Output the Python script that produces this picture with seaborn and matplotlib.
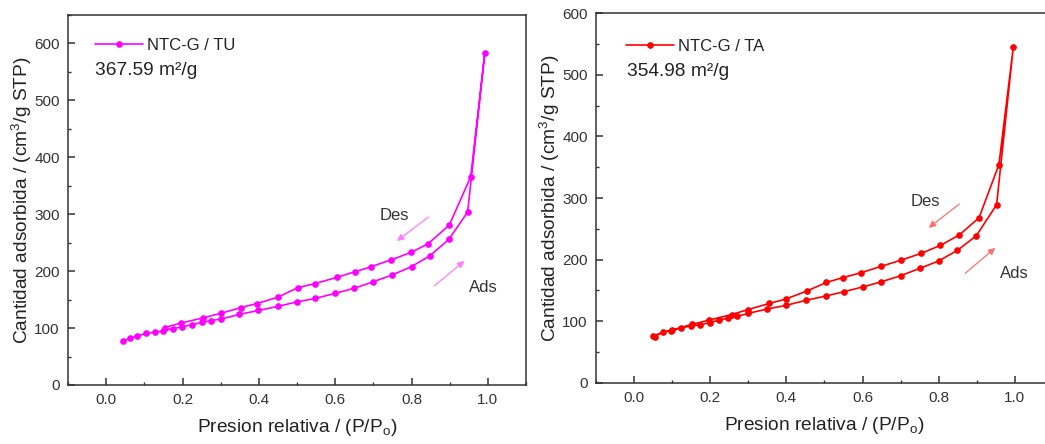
import numpy as np
import pandas as pd
import matplotlib
matplotlib.use("Agg")
import matplotlib.pyplot as plt
from matplotlib.ticker import MultipleLocator, FormatStrFormatter
import seaborn as sns

# NTC-G / TU isotherm: adsorption branch (rising P/Po) then desorption branch
tu_ads_p = [0.044, 0.062, 0.082, 0.105, 0.128, 0.150, 0.174, 0.199, 0.225, 0.251,
            0.275, 0.301, 0.349, 0.399, 0.449, 0.500, 0.547, 0.600, 0.650, 0.698,
            0.748, 0.800, 0.848, 0.898, 0.947, 0.992]
tu_ads_v = [76.6, 82, 86.5, 90.6, 93, 95, 99, 102, 106, 110,
            113, 116, 124, 131, 138, 146, 152, 161, 170, 181,
            193, 208, 227, 256, 304, 584]
tu_des_p = [0.955, 0.899, 0.843, 0.799, 0.747, 0.695, 0.652, 0.604, 0.546, 0.502,
            0.449, 0.394, 0.353, 0.301, 0.254, 0.197, 0.153]
tu_des_v = [366, 281, 248, 233, 220, 208, 199, 189, 178, 171,
            154, 143, 136, 126, 118, 109, 101]

# NTC-G / TA isotherm
ta_ads_p = [0.054, 0.076, 0.098, 0.122, 0.150, 0.172, 0.200, 0.222, 0.247, 0.271,
            0.300, 0.350, 0.400, 0.451, 0.503, 0.551, 0.602, 0.649, 0.700, 0.751,
            0.800, 0.849, 0.899, 0.952, 0.996]
ta_ads_v = [75, 83, 85, 89, 93, 94, 98, 102, 105, 108,
            113, 120, 126, 134, 141, 148, 156, 164, 174, 186,
            198, 215, 239, 289, 545]
ta_des_p = [0.958, 0.906, 0.854, 0.804, 0.753, 0.700, 0.648, 0.597, 0.549, 0.505,
            0.453, 0.398, 0.355, 0.299, 0.256, 0.197, 0.152, 0.100, 0.050]
ta_des_v = [354, 268, 240, 223, 210, 199, 189, 179, 171, 163,
            149, 136, 129, 119, 111, 102, 95, 86, 77]

labels = ["NTC-G / TU", "NTC-G / TA"]
areas = ["367.59 m\u00b2/g", "354.98 m\u00b2/g"]
x_label = "Presion relativa / (P/P$_\\mathregular{o}$)"
y_label = "Cantidad adsorbida / (cm$^\\mathregular{3}$/g STP)"

sns.set_style("ticks")
plt.rcParams["font.family"] = ["Liberation Sans", "DejaVu Sans"]
plt.rcParams["mathtext.fontset"] = "custom"
plt.rcParams["mathtext.rm"] = "Liberation Sans"
plt.rcParams["xtick.direction"] = "in"
plt.rcParams["ytick.direction"] = "in"

fig = plt.figure(figsize=(10.45, 4.44), dpi=100)
ax_l = fig.add_axes([0.0651, 0.1329, 0.4383, 0.8333])
ax_r = fig.add_axes([0.5703, 0.1374, 0.4373, 0.8333])

panels = [
    (ax_l, tu_ads_p, tu_ads_v, tu_des_p, tu_des_v, "#ff00ff", "#ff7dff", 650,
     (0.059, 0.937), (0.059, 0.851),
     dict(des=((0.85, 298), (0.756, 250)), des_txt=(0.756, 298),
          ads=((0.854, 171), (0.944, 221)), ads_txt=(0.95, 172))),
    (ax_r, ta_ads_p, ta_ads_v, ta_des_p, ta_des_v, "#ff0000", "#ff7070", 600,
     (0.066, 0.93), (0.067, 0.843),
     dict(des=((0.86, 293), (0.768, 249)), des_txt=(0.764, 294),
          ads=((0.864, 175), (0.954, 222)), ads_txt=(0.96, 178))),
]

ink = "#333333"
for i, (ax, ap, av, dp, dv, col, acol, ytop, leg_xy, area_xy, ann) in enumerate(panels):
    df = pd.DataFrame({"p": list(ap) + list(dp), "v": list(av) + list(dv)})
    sns.lineplot(data=df, x="p", y="v", sort=False, estimator=None, ax=ax,
                 color=col, lw=1.2, marker="o", markersize=4,
                 markeredgecolor=col, label=labels[i])
    ax.set_xlim(-0.1, 1.1)
    ax.set_ylim(0, ytop)
    ax.xaxis.set_major_locator(MultipleLocator(0.2))
    ax.xaxis.set_minor_locator(MultipleLocator(0.1))
    ax.yaxis.set_major_locator(MultipleLocator(100))
    ax.yaxis.set_minor_locator(MultipleLocator(50))
    ax.xaxis.set_major_formatter(FormatStrFormatter("%.1f"))
    ax.tick_params(which="major", length=5, width=1.1, color=ink, labelsize=11,
                   labelcolor=ink, pad=6)
    ax.tick_params(which="minor", length=2.5, width=1.0, color=ink)
    for s in ax.spines.values():
        s.set_visible(True)
        s.set_color(ink)
        s.set_linewidth(1.1)
    ax.set_xlabel(x_label, fontsize=13.8, color="#222222", labelpad=7)
    ax.set_ylabel(y_label, fontsize=13.8, color="#222222", labelpad=0)

    ax.legend(loc="upper left", frameon=False, fontsize=12, handlelength=2.9,
              handletextpad=0.2, borderaxespad=0.0, borderpad=0.0,
              bbox_to_anchor=leg_xy, labelcolor="#222222")
    ax.text(*area_xy, areas[i], transform=ax.transAxes, fontsize=13.8,
            color="#222222", ha="left", va="center")

    (t0, h0) = ann["des"]
    ax.annotate("", xy=h0, xytext=t0,
                arrowprops=dict(arrowstyle="-|>", color=acol, lw=0.9,
                                mutation_scale=10))
    ax.text(*ann["des_txt"], "Des", fontsize=12, color="#333333",
            ha="center", va="center")
    (t1, h1) = ann["ads"]
    ax.annotate("", xy=h1, xytext=t1,
                arrowprops=dict(arrowstyle="-|>", color=acol, lw=0.9,
                                mutation_scale=10))
    ax.text(*ann["ads_txt"], "Ads", fontsize=12, color="#333333",
            ha="left", va="center")

fig.savefig("out.png", dpi=100)
